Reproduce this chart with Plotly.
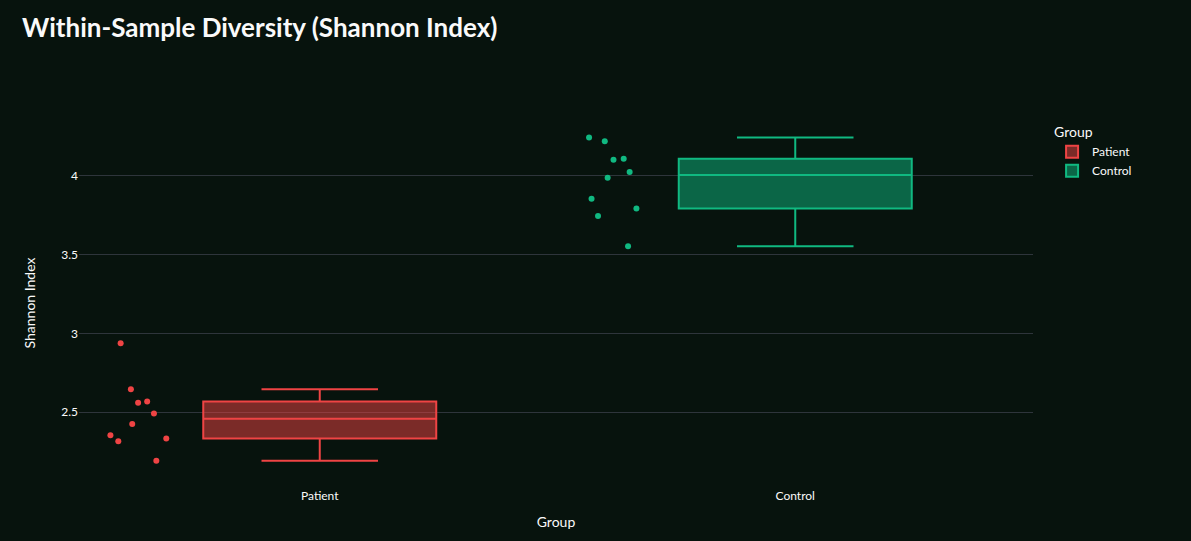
import plotly.graph_objects as go

# Shannon index per sample
patient = [2.937, 2.646, 2.559, 2.568, 2.492, 2.424, 2.354, 2.316, 2.333, 2.192]
control = [4.242, 4.219, 4.101, 4.108, 4.023, 3.987, 3.854, 3.792, 3.745, 3.553]

groups = ["Patient", "Control"]
colors = {"Patient": "#ef4444", "Control": "#10b981"}
values = {"Patient": patient, "Control": control}

bg = "#07130d"
font = "Source Sans Pro, Lato, sans-serif"

fig = go.Figure()
for g in groups:
    fig.add_trace(go.Box(
        x=[g] * len(values[g]),
        y=values[g],
        name=g,
        marker_color=colors[g],
        line_color=colors[g],
        boxpoints="all",
        jitter=0.3,
        pointpos=-1.55,
        offsetgroup=g,
    ))

fig.update_layout(
    width=1191,
    height=541,
    title=dict(text="<b>Within-Sample Diversity (Shannon Index)</b>",
               x=0.0185, y=0.948, yanchor="middle",
               font=dict(size=26, color="#fafafa", family=font)),
    paper_bgcolor=bg,
    plot_bgcolor=bg,
    font=dict(family=font, color="#fafafa", size=12),
    boxmode="overlay",
    legend=dict(title=dict(text="Group"), font=dict(size=12), tracegroupgap=0),
    margin=dict(l=79, r=158, t=119, b=54),
    xaxis=dict(title=dict(text="Group", font=dict(size=14)),
               categoryorder="array", categoryarray=groups,
               showgrid=False, zeroline=False),
    yaxis=dict(title=dict(text="Shannon Index", font=dict(size=14), standoff=22),
               gridcolor="#2e353b", zeroline=False, tickvals=[2.5, 3, 3.5, 4],
               range=[2.025, 4.36]),
)

fig.write_html("out.html", config={"displayModeBar": False},
               post_script="document.body.style.margin='0';"
                           "document.body.style.background='%s';" % bg)
